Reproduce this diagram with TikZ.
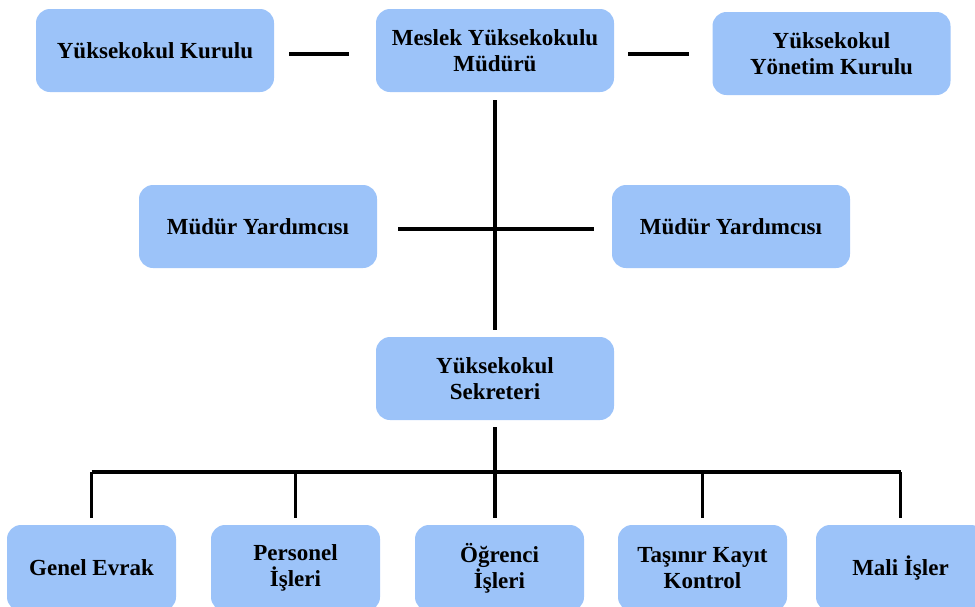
\documentclass[tikz,border=0pt]{standalone}
\usepackage{fontspec}
\setmainfont{Liberation Serif}
\definecolor{boxblue}{HTML}{9CC3F9}
\begin{document}
\begin{tikzpicture}[x=1pt,y=-1pt,
  box/.style={rectangle, rounded corners=14pt, fill=boxblue, draw=none,
    minimum width=238pt, minimum height=83pt, align=center, inner sep=0pt,
    font=\fontsize{23}{26}\selectfont\bfseries},
  smallbox/.style={box, minimum width=169pt, minimum height=86pt},
  conn/.style={line width=3.6pt, black}]
\useasboundingbox (0,0) rectangle (975,606);
\begin{scope}
\clip (0,0) rectangle (975,606);
\node[box] (kurul) at (155,50.5) {Yüksekokul Kurulu};
\node[box] (mud) at (495,50.5) {Meslek Yüksekokulu\\Müdürü};
\node[box] (yon) at (831.5,53.5) {Yüksekokul\\Yönetim Kurulu};
\node[box] (my1) at (258,226.5) {Müdür Yardımcısı};
\node[box] (my2) at (731,226.5) {Müdür Yardımcısı};
\node[box] (sek) at (495,378.5) {Yüksekokul\\Sekreteri};
\node[smallbox] (b1) at (91.5,568) {Genel Evrak};
\node[smallbox] (b2) at (295.5,568) {Personel\\İşleri};
\node[smallbox] (b3) at (499.5,568) {Öğrenci\\İşleri};
\node[smallbox] (b4) at (702.5,568) {Taşınır Kayıt\\Kontrol};
\node[smallbox] (b5) at (900.5,568) {Mali İşler};

\draw[conn] ([xshift=15pt,yshift=-3.5pt]kurul.east) -- ([xshift=-27pt,yshift=-3.5pt]mud.west);
\coordinate (mr) at ([xshift=14pt,yshift=-3.5pt]mud.east);
\coordinate (yl) at ([xshift=-23pt]yon.west);
\draw[conn] (mr) -- (mr -| yl);
\draw[conn] ([yshift=-8pt]mud.south) -- ([yshift=7pt]sek.north);
\draw[conn] ([xshift=21pt,yshift=-2.5pt]my1.east) -- ([xshift=-18pt,yshift=-2.5pt]my2.west);
\coordinate (bus) at (495,472);
\coordinate (b3top) at ([yshift=7pt]b3.north);
\draw[conn] ([yshift=-7pt]sek.south) -- (bus);
\draw[conn] (b1.north |- bus) -- (b5.north |- bus);
\foreach \b in {b1,b2,b4,b5} {
  \draw[conn] (\b.north |- bus) -- ([yshift=7pt]\b.north);
}
\draw[conn] (bus) -- (bus |- b3top);
\end{scope}
\end{tikzpicture}
\end{document}
